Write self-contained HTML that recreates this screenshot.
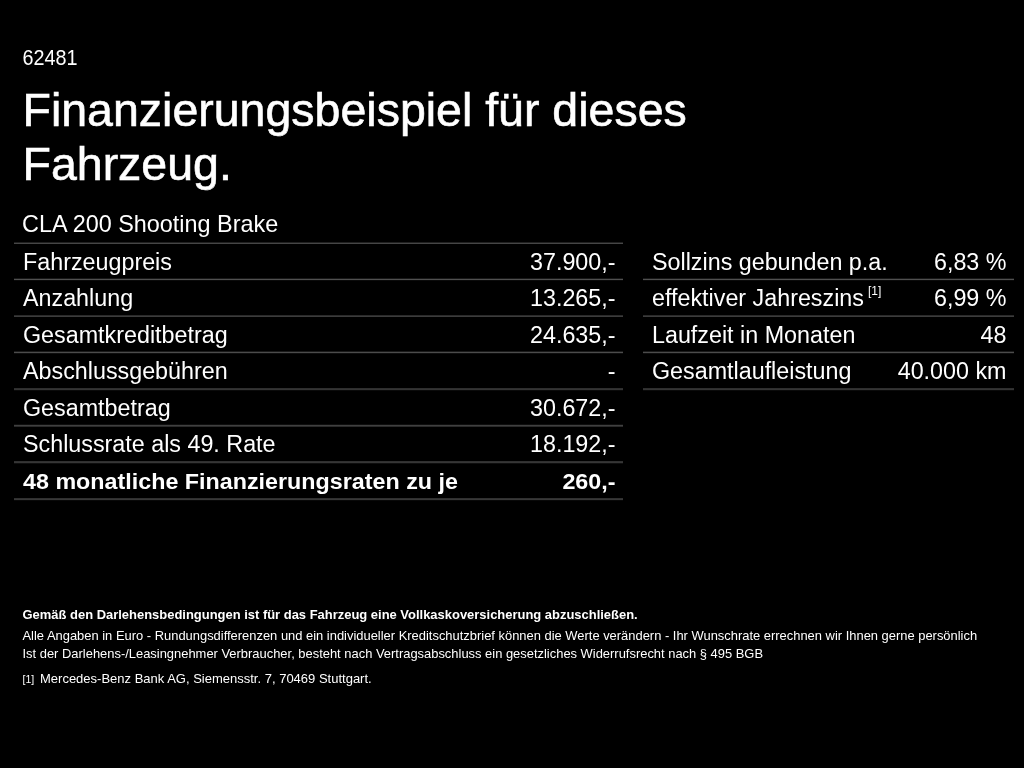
<!DOCTYPE html>
<html><head><meta charset="utf-8"><style>
html,body{margin:0;padding:0;background:#000;width:1024px;height:768px;overflow:hidden}
body{position:relative;font-family:"Liberation Sans",sans-serif;color:#fff}
.t{position:absolute;white-space:nowrap;line-height:1;transform-origin:0 84.65%}
.ln{position:absolute;height:1px;background:#555}
#w{position:absolute;left:0;top:0;width:1024px;height:768px;filter:blur(0.45px)}
sup{font-size:12px;vertical-align:10.5px;line-height:0;margin-left:-2.5px}
</style></head><body><div id="w">
<div class="t" style="left:22.5px;top:49.04px;font-size:19.8px;font-weight:400;transform:scaleY(1.08);">62481</div>
<div class="t" style="left:22.5px;top:87.14px;font-size:46.5px;font-weight:400;-webkit-text-stroke:0.6px #fff;">Finanzierungsbeispiel für dieses</div>
<div class="t" style="left:22.5px;top:140.94px;font-size:46.5px;font-weight:400;-webkit-text-stroke:0.6px #fff;">Fahrzeug.</div>
<div class="t" style="left:22px;top:213.39px;font-size:23.4px;font-weight:400;">CLA 200 Shooting Brake</div>
<div class="ln" style="left:14px;width:609px;top:242px;background:rgb(32,32,32)"></div>
<div class="ln" style="left:14px;width:609px;top:243px;background:rgb(70,70,70)"></div>
<div class="ln" style="left:14px;width:609px;top:278px;background:rgb(24,24,24)"></div>
<div class="ln" style="left:14px;width:609px;top:279px;background:rgb(80,80,80)"></div>
<div class="ln" style="left:14px;width:609px;top:280px;background:rgb(10,10,10)"></div>
<div class="ln" style="left:14px;width:609px;top:315px;background:rgb(42,42,42)"></div>
<div class="ln" style="left:14px;width:609px;top:316px;background:rgb(60,60,60)"></div>
<div class="ln" style="left:14px;width:609px;top:351px;background:rgb(26,26,26)"></div>
<div class="ln" style="left:14px;width:609px;top:352px;background:rgb(76,76,76)"></div>
<div class="ln" style="left:14px;width:609px;top:353px;background:rgb(14,14,14)"></div>
<div class="ln" style="left:14px;width:609px;top:388px;background:rgb(46,46,46)"></div>
<div class="ln" style="left:14px;width:609px;top:389px;background:rgb(52,52,52)"></div>
<div class="ln" style="left:14px;width:609px;top:390px;background:rgb(10,10,10)"></div>
<div class="ln" style="left:14px;width:609px;top:424px;background:rgb(14,14,14)"></div>
<div class="ln" style="left:14px;width:609px;top:425px;background:rgb(64,64,64)"></div>
<div class="ln" style="left:14px;width:609px;top:426px;background:rgb(42,42,42)"></div>
<div class="ln" style="left:14px;width:609px;top:461px;background:rgb(48,48,48)"></div>
<div class="ln" style="left:14px;width:609px;top:462px;background:rgb(54,54,54)"></div>
<div class="ln" style="left:14px;width:609px;top:463px;background:rgb(14,14,14)"></div>
<div class="ln" style="left:14px;width:609px;top:498px;background:rgb(48,48,48)"></div>
<div class="ln" style="left:14px;width:609px;top:499px;background:rgb(56,56,56)"></div>
<div class="ln" style="left:14px;width:609px;top:500px;background:rgb(8,8,8)"></div>
<div class="t" style="left:23px;top:250.68px;font-size:23.3px;font-weight:400;">Fahrzeugpreis</div>
<div class="t" style="right:408.50px;top:250.68px;font-size:23.3px;font-weight:400;text-align:right;">37.900,-</div>
<div class="t" style="left:23px;top:286.88px;font-size:23.3px;font-weight:400;">Anzahlung</div>
<div class="t" style="right:408.50px;top:286.88px;font-size:23.3px;font-weight:400;text-align:right;">13.265,-</div>
<div class="t" style="left:23px;top:323.58px;font-size:23.3px;font-weight:400;">Gesamtkreditbetrag</div>
<div class="t" style="right:408.50px;top:323.58px;font-size:23.3px;font-weight:400;text-align:right;">24.635,-</div>
<div class="t" style="left:23px;top:360.28px;font-size:23.3px;font-weight:400;">Abschlussgebühren</div>
<div class="t" style="right:408.50px;top:360.28px;font-size:23.3px;font-weight:400;text-align:right;">-</div>
<div class="t" style="left:23px;top:396.78px;font-size:23.3px;font-weight:400;">Gesamtbetrag</div>
<div class="t" style="right:408.50px;top:396.78px;font-size:23.3px;font-weight:400;text-align:right;">30.672,-</div>
<div class="t" style="left:23px;top:433.48px;font-size:23.3px;font-weight:400;">Schlussrate als 49. Rate</div>
<div class="t" style="right:408.50px;top:433.48px;font-size:23.3px;font-weight:400;text-align:right;">18.192,-</div>
<div class="t" style="left:23px;top:470.18px;font-size:23.3px;font-weight:700;transform:scaleY(0.95);">48 monatliche Finanzierungsraten zu je</div>
<div class="t" style="right:408.50px;top:470.18px;font-size:23.3px;font-weight:700;text-align:right;transform:scaleY(0.95);">260,-</div>
<div class="ln" style="left:643px;width:371px;top:278px;background:rgb(24,24,24)"></div>
<div class="ln" style="left:643px;width:371px;top:279px;background:rgb(80,80,80)"></div>
<div class="ln" style="left:643px;width:371px;top:280px;background:rgb(10,10,10)"></div>
<div class="ln" style="left:643px;width:371px;top:315px;background:rgb(42,42,42)"></div>
<div class="ln" style="left:643px;width:371px;top:316px;background:rgb(60,60,60)"></div>
<div class="ln" style="left:643px;width:371px;top:351px;background:rgb(26,26,26)"></div>
<div class="ln" style="left:643px;width:371px;top:352px;background:rgb(76,76,76)"></div>
<div class="ln" style="left:643px;width:371px;top:353px;background:rgb(14,14,14)"></div>
<div class="ln" style="left:643px;width:371px;top:388px;background:rgb(46,46,46)"></div>
<div class="ln" style="left:643px;width:371px;top:389px;background:rgb(52,52,52)"></div>
<div class="ln" style="left:643px;width:371px;top:390px;background:rgb(10,10,10)"></div>
<div class="t" style="left:652px;top:250.68px;font-size:23.3px;font-weight:400;">Sollzins gebunden p.a.</div>
<div class="t" style="right:17.50px;top:250.68px;font-size:23.3px;font-weight:400;text-align:right;">6,83 %</div>
<div class="t" style="left:652px;top:286.88px;font-size:23.3px;font-weight:400;">effektiver Jahreszins <sup>[1]</sup></div>
<div class="t" style="right:17.50px;top:286.88px;font-size:23.3px;font-weight:400;text-align:right;">6,99 %</div>
<div class="t" style="left:652px;top:323.58px;font-size:23.3px;font-weight:400;">Laufzeit in Monaten</div>
<div class="t" style="right:17.50px;top:323.58px;font-size:23.3px;font-weight:400;text-align:right;">48</div>
<div class="t" style="left:652px;top:360.28px;font-size:23.3px;font-weight:400;">Gesamtlaufleistung</div>
<div class="t" style="right:17.50px;top:360.28px;font-size:23.3px;font-weight:400;text-align:right;">40.000 km</div>
<div class="t" style="left:22.5px;top:608.63px;font-size:12.96px;font-weight:700;">Gemäß den Darlehensbedingungen ist für das Fahrzeug eine Vollkaskoversicherung abzuschließen.</div>
<div class="t" style="left:22.5px;top:629.65px;font-size:12.93px;font-weight:400;">Alle Angaben in Euro - Rundungsdifferenzen und ein individueller Kreditschutzbrief können die Werte verändern - Ihr Wunschrate errechnen wir Ihnen gerne persönlich</div>
<div class="t" style="left:22.5px;top:648.15px;font-size:12.93px;font-weight:400;">Ist der Darlehens-/Leasingnehmer Verbraucher, besteht nach Vertragsabschluss ein gesetzliches Widerrufsrecht nach § 495 BGB</div>
<div class="t" style="left:22.5px;top:673.71px;font-size:10.5px;font-weight:400;">[1]</div>
<div class="t" style="left:40px;top:671.80px;font-size:13px;font-weight:400;">Mercedes-Benz Bank AG, Siemensstr. 7, 70469 Stuttgart.</div>
</div></body></html>
